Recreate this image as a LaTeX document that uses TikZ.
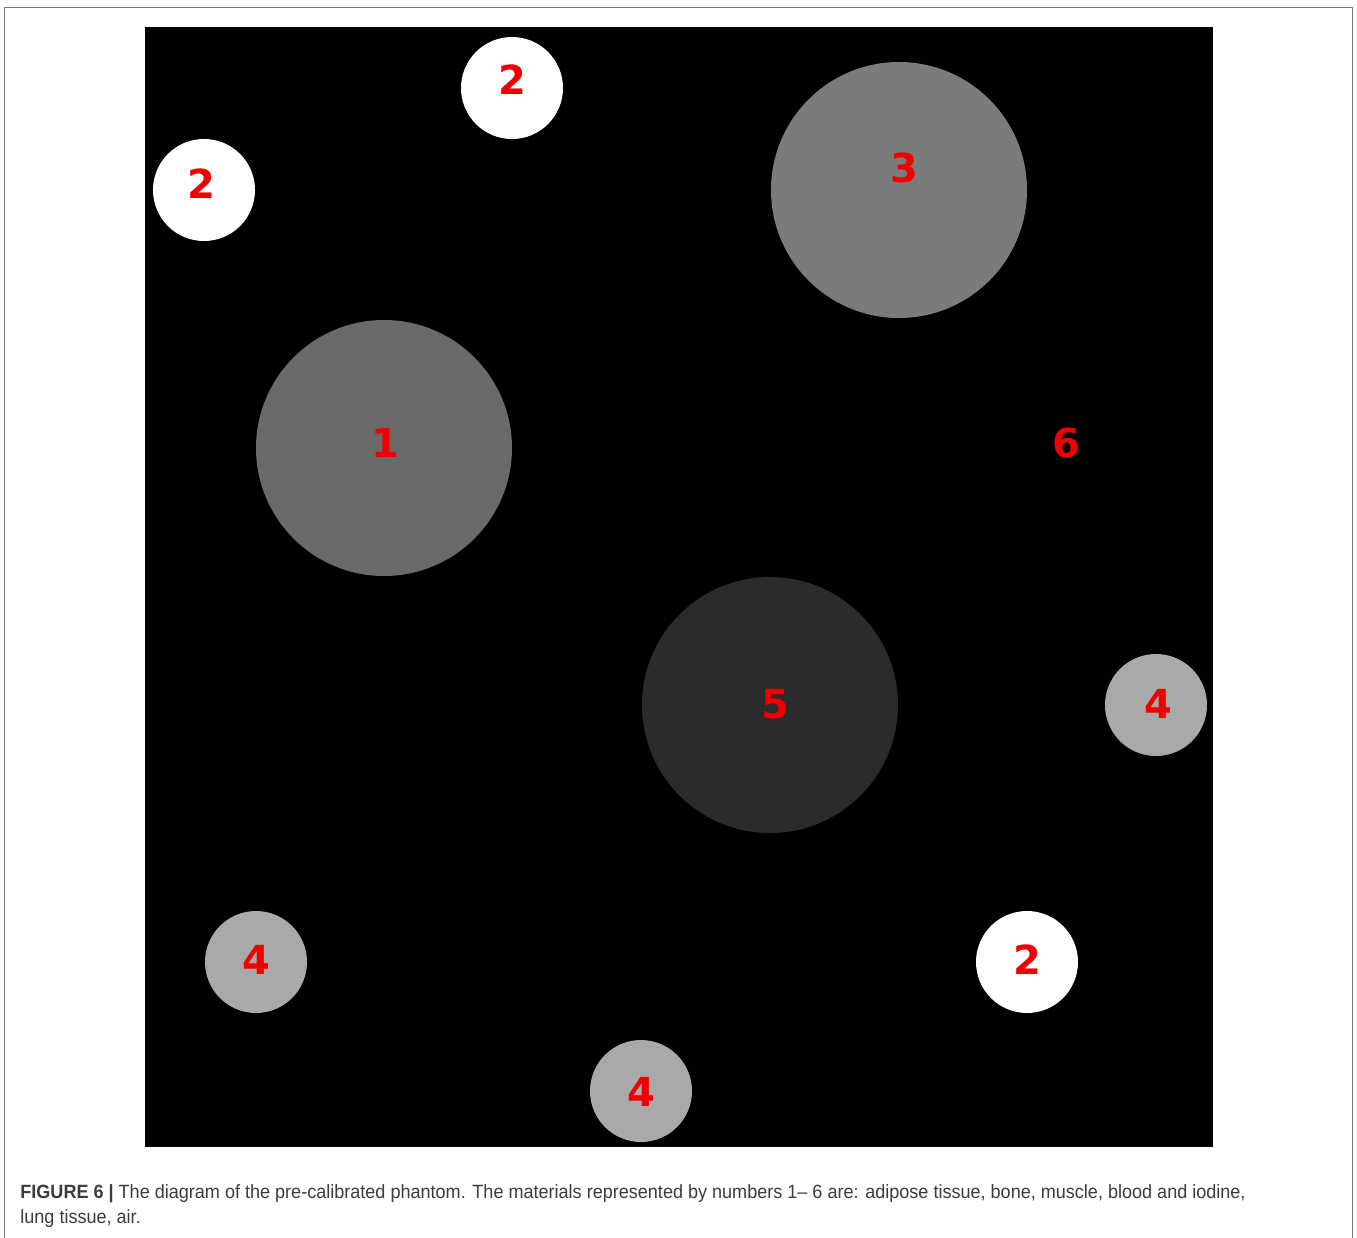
\documentclass[tikz,border=0pt]{standalone}
\usepackage{fontspec}
\usepackage{xcolor}
\usepackage{tikz}
\usetikzlibrary{positioning}
\newfontfamily\digitfont{DejaVu Sans}
\newfontfamily\capfont[FakeStretch=0.94]{Liberation Sans}
\definecolor{FrameGray}{RGB}{120, 120, 120}
\definecolor{AdiposeGray}{RGB}{106, 106, 106}
\definecolor{MuscleGray}{RGB}{123, 123, 123}
\definecolor{LungGray}{RGB}{169, 169, 169}
\definecolor{BloodGray}{RGB}{43, 43, 43}
\definecolor{LabelRed}{RGB}{240, 0, 0}
\definecolor{CaptionGray}{RGB}{60, 60, 60}
\tikzset{
    numlabel/.style={text=LabelRed, font=\fontsize{20}{22}\selectfont\digitfont\bfseries, inner sep=0pt},
    caption/.style={text=CaptionGray, font=\fontsize{9.6}{12.5}\selectfont\capfont, inner sep=0pt, align=left, anchor=north west}
}

\begin{document}
\begin{tikzpicture}[x=0.5pt, y=-0.5pt]
    \useasboundingbox (0,0) rectangle (1357,1238);
    \fill[white] (0,0) rectangle (1357,1238);
    % outer frame
    \draw[FrameGray, line width=0.8pt] (4.5,1260) -- (4.5,7.5) -- (1352.5,7.5) -- (1352.5,1260);
    % phantom
    \fill[black] (145,27) rectangle (1213,1147);
    % large inserts
    \fill[MuscleGray] (899,190) circle[radius=128];
    \fill[AdiposeGray] (384,448) circle[radius=128];
    \fill[BloodGray] (770,705) circle[radius=128];
    % small inserts
    \fill[white] (512,88) circle[radius=51];
    \fill[white] (204,190) circle[radius=51];
    \fill[white] (1027,962) circle[radius=51];
    \fill[LungGray] (1156,705) circle[radius=51];
    \fill[LungGray] (256,962) circle[radius=51];
    \fill[LungGray] (641,1091) circle[radius=51];
    % material numbers
    \node[numlabel] (n1) at (385,443) {1};
    \node[numlabel] (n2a) at (512,80) {2};
    \node[numlabel] (n2b) at (201,184) {2};
    \node[numlabel] (n2c) at (1027,960) {2};
    \node[numlabel] (n3) at (904,168) {3};
    \node[numlabel] (n4a) at (1158,704) {4};
    \node[numlabel] (n4b) at (256,960) {4};
    \node[numlabel] (n4c) at (641,1092) {4};
    \node[numlabel] (n5) at (775,704) {5};
    \node[numlabel] (n6) at (1066,443) {6};
    % caption
    \node[caption] (cap) at (20,1184) {\textbf{FIGURE 6 |} The diagram of the pre-calibrated phantom. The materials represented by numbers 1– 6 are: adipose tissue, bone, muscle, blood and iodine,\\lung tissue, air.};
\end{tikzpicture}
\end{document}
